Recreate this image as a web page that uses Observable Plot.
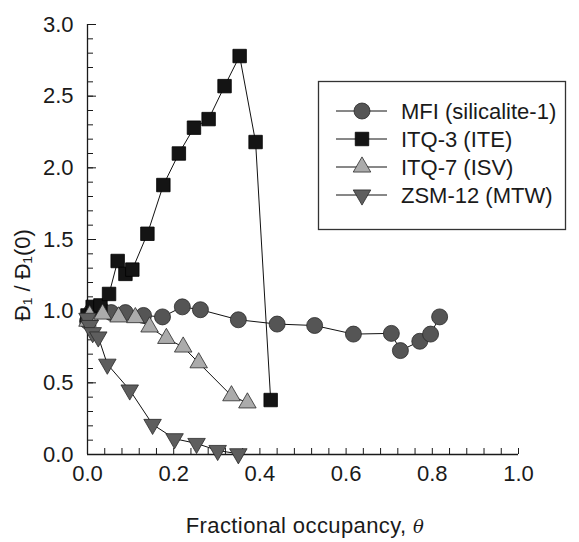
<!DOCTYPE html>
<html>
<head>
<meta charset="utf-8">
<script src="https://cdn.jsdelivr.net/npm/d3@7"></script>
<script src="https://cdn.jsdelivr.net/npm/@observablehq/plot@0.6"></script>
<style>
  html, body { margin: 0; padding: 0; background: #fff; }
  #chart svg { display: block; }
</style>
</head>
<body>
<div id="chart"></div>
<script>
// ---- data ----
const seriesNames = ["MFI (silicalite-1)", "ITQ-3 (ITE)", "ITQ-7 (ISV)", "ZSM-12 (MTW)"];

const mfiTheta = [0.0, 0.004, 0.01, 0.03, 0.055, 0.088, 0.13, 0.174, 0.22, 0.262, 0.35, 0.44, 0.527, 0.617, 0.705, 0.726, 0.771, 0.796, 0.817];
const mfiD     = [0.93, 0.97, 1.0, 1.02, 0.99, 0.99, 0.97, 0.96, 1.03, 1.01, 0.94, 0.91, 0.90, 0.84, 0.845, 0.725, 0.79, 0.84, 0.96];

const itq3Theta = [0.0, 0.012, 0.03, 0.05, 0.07, 0.088, 0.104, 0.139, 0.176, 0.212, 0.247, 0.281, 0.318, 0.353, 0.390, 0.425];
const itq3D     = [0.97, 1.03, 1.04, 1.12, 1.35, 1.26, 1.29, 1.54, 1.88, 2.10, 2.28, 2.34, 2.57, 2.78, 2.18, 0.38];

const itq7Theta = [0.0, 0.005, 0.035, 0.072, 0.111, 0.144, 0.183, 0.222, 0.258, 0.334, 0.371];
const itq7D     = [0.93, 0.97, 0.98, 0.96, 0.955, 0.89, 0.81, 0.75, 0.64, 0.41, 0.36];

const zsmTheta = [0.0, 0.005, 0.012, 0.025, 0.046, 0.098, 0.151, 0.202, 0.253, 0.302, 0.35];
const zsmD     = [0.95, 0.90, 0.85, 0.82, 0.63, 0.45, 0.21, 0.11, 0.077, 0.028, 0.005];

const xTicks = [0.0, 0.2, 0.4, 0.6, 0.8, 1.0];
const yTicks = [0.0, 0.5, 1.0, 1.5, 2.0, 2.5, 3.0];

// ---- build tables ----
const toRows = (xs, ys) => xs.map((x, i) => ({x, y: ys[i]}));
const mfi = toRows(mfiTheta, mfiD);
const itq3 = toRows(itq3Theta, itq3D);
const itq7 = toRows(itq7Theta, itq7D);
const zsm = toRows(zsmTheta, zsmD);

const font = "Liberation Sans, Arial, sans-serif";
const ink = "#1a1a1a";
const fs = 22;

const styles = [
  {symbol: "circle", fill: "#555555", stroke: "#2a2a2a", r: 8, rotate: 0},
  {symbol: "square", fill: "#141414", stroke: "#000000", r: 7.6, rotate: 0},
  {symbol: "triangle", fill: "#ababab", stroke: "#2a2a2a", r: 6.5, rotate: 0},
  {symbol: "triangle", fill: "#5e5e5e", stroke: "#2a2a2a", r: 6.5, rotate: 180}
];
const datasets = [mfi, itq3, itq7, zsm];

const minorX = d3.range(0, 25.5).map(i => +(i * 0.04).toFixed(2));
const minorY = d3.range(0, 30.5).map(i => +(i * 0.1).toFixed(1));

const marks = [];
datasets.forEach((data) => {
  marks.push(Plot.line(data, {x: "x", y: "y", stroke: "#111", strokeWidth: 1}));
});
datasets.forEach((data, i) => {
  const s = styles[i];
  marks.push(Plot.dot(data, {x: "x", y: "y", symbol: s.symbol, r: s.r, fill: s.fill, stroke: s.stroke, strokeWidth: 0.8, rotate: s.rotate}));
});

const chart = Plot.plot({
  width: 579,
  height: 542,
  marginLeft: 87,
  marginRight: 61,
  marginTop: 24,
  marginBottom: 88,
  style: {fontFamily: font, fontSize: fs + "px", color: ink, background: "#fff"},
  x: {domain: [0, 1]},
  y: {domain: [0, 3]},
  marks: [
    // inward minor ticks
    Plot.axisX({ticks: minorX, tickSize: -6, tickFormat: () => "", label: null, stroke: ink}),
    Plot.axisY({ticks: minorY, tickSize: -6, tickFormat: () => "", label: null, stroke: ink}),
    Plot.axisY({ticks: yTicks, tickSize: -9, tickFormat: () => "", label: null, stroke: ink}),
    // labels
    Plot.axisX({ticks: xTicks, tickSize: 0, tickPadding: 11, tickFormat: d3.format(".1f"), label: null, fontSize: fs, fill: ink}),
    Plot.axisY({ticks: yTicks, tickSize: 0, tickPadding: 14, tickFormat: d3.format(".1f"), label: null, fontSize: fs, fill: ink}),
    Plot.ruleX([0], {stroke: ink, strokeWidth: 1.3}),
    Plot.ruleY([0], {stroke: ink, strokeWidth: 1.3}),
    ...marks
  ]
});

document.getElementById("chart").appendChild(chart);

// ---- titles and legend ----
const svg = d3.select(chart);
svg.append("text")
  .attr("x", 305).attr("y", 533)
  .attr("text-anchor", "middle")
  .attr("font-family", font).attr("font-size", fs).attr("fill", ink)
  .attr("letter-spacing", "0.4px")
  .call(t => {
    t.append("tspan").text("Fractional occupancy, ");
    t.append("tspan").attr("font-style", "italic").attr("font-family", "DejaVu Serif, serif").attr("font-size", 18).text("θ");
  });

svg.append("text")
  .attr("transform", "translate(30,275) rotate(-90)")
  .attr("text-anchor", "middle")
  .attr("font-family", font).attr("font-size", fs).attr("fill", ink)
  .text("Đ₁ / Đ₁(0)");

const lg = svg.append("g");
lg.append("rect")
  .attr("x", 318.5).attr("y", 81.5).attr("width", 247).attr("height", 148)
  .attr("fill", "#fff").attr("stroke", "#333").attr("stroke-width", 1.3);
const rowY = [111, 139, 167, 195];
seriesNames.forEach((name, i) => {
  const s = styles[i];
  const y = rowY[i];
  lg.append("line").attr("x1", 336).attr("x2", 387).attr("y1", y).attr("y2", y)
    .attr("stroke", "#111").attr("stroke-width", 1);
  const sym = s.symbol === "circle" ? d3.symbolCircle : s.symbol === "square" ? d3.symbolSquare : d3.symbolTriangle;
  lg.append("path")
    .attr("d", d3.symbol(sym, Math.PI * s.r * s.r)())
    .attr("transform", `translate(362,${y}) rotate(${s.rotate})`)
    .attr("fill", s.fill).attr("stroke", s.stroke).attr("stroke-width", 0.8);
  lg.append("text")
    .attr("x", 401).attr("y", y).attr("dy", "0.35em")
    .attr("text-anchor", "start")
    .attr("font-family", font).attr("font-size", fs).attr("fill", ink)
    .text(name);
});
</script>
</body>
</html>
